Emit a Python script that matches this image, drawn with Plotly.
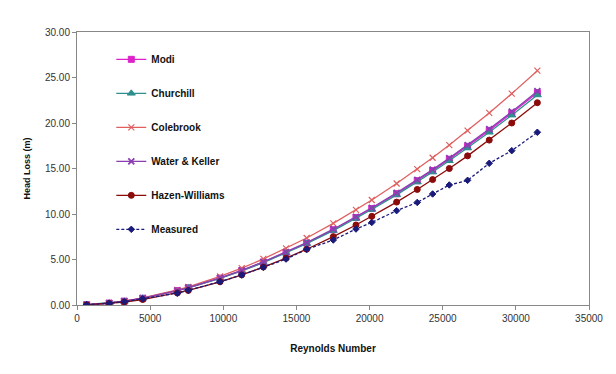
import plotly.graph_objects as go

reynolds = [660, 2200, 3230, 4490, 6860, 7610, 9780, 11260, 12740, 14290, 15700,
            17520, 19070, 20150, 21850, 23260, 24310, 25450, 26700, 28180, 29720, 31470]

modi = [0.03, 0.21, 0.42, 0.74, 1.58, 1.89, 2.95, 3.78, 4.71, 5.77, 6.81,
        8.27, 9.61, 10.60, 12.23, 13.66, 14.77, 16.02, 17.44, 19.19, 21.09, 23.33]
churchill = [0.03, 0.21, 0.41, 0.74, 1.56, 1.87, 2.92, 3.74, 4.65, 5.71, 6.74,
             8.18, 9.51, 10.49, 12.10, 13.51, 14.61, 15.85, 17.25, 18.98, 20.86, 23.08]
colebrook = [0.03, 0.21, 0.43, 0.77, 1.66, 2.00, 3.14, 4.05, 5.06, 6.22, 7.36,
             8.97, 10.45, 11.54, 13.35, 14.94, 16.18, 17.57, 19.16, 21.11, 23.23, 25.75]
water_keller = [0.03, 0.21, 0.42, 0.75, 1.59, 1.90, 2.97, 3.81, 4.74, 5.81, 6.86,
                8.33, 9.68, 10.68, 12.32, 13.76, 14.88, 16.14, 17.57, 19.33, 21.24, 23.50]
hazen = [0.02, 0.16, 0.33, 0.60, 1.32, 1.60, 2.55, 3.31, 4.17, 5.15, 6.13,
         7.51, 8.79, 9.74, 11.31, 12.70, 13.78, 15.00, 16.39, 18.12, 20.00, 22.23]
measured = [0.04, 0.18, 0.37, 0.68, 1.30, 1.62, 2.56, 3.30, 4.14, 5.05, 6.12,
            7.14, 8.35, 9.07, 10.37, 11.27, 12.20, 13.19, 13.70, 15.57, 16.96, 18.98]

x_ticks = [0, 5000, 10000, 15000, 20000, 25000, 30000, 35000]
y_ticks = [0, 5, 10, 15, 20, 25, 30]

series = [
    ("Modi", modi, "#dd22cc", "square", 6, "solid", 1.0),
    ("Churchill", churchill, "#2f8f8f", "triangle-up", 7, "solid", 1.0),
    ("Colebrook", colebrook, "#e06060", "x-thin", 6, "solid", 1.2),
    ("Water & Keller", water_keller, "#8a3fb0", "x-thin", 6, "solid", 1.8),
    ("Hazen-Williams", hazen, "#8b0a0a", "circle", 6, "solid", 1.0),
    ("Measured", measured, "#1a1a7a", "diamond", 5, "3px,2px", 1.0),
]

fig = go.Figure()
for i, (name, vals, color, sym, size, dash, mlw) in enumerate(series):
    fig.add_trace(go.Scatter(
        x=reynolds, y=vals, name=name, mode="lines+markers",
        line=dict(color=color, width=1.3, dash=dash),
        marker=dict(symbol=sym, size=size, color=color,
                    line=dict(color=color, width=mlw)),
        legendgroup="g%d" % i,
    ))

fig.update_layout(
    width=600, height=358,
    margin=dict(l=69, r=19, t=24, b=61, autoexpand=False),
    paper_bgcolor="white", plot_bgcolor="white",
    font=dict(family="Liberation Sans, Arial, sans-serif", size=10, color="#222"),
    showlegend=True,
    legend=dict(x=0.067, y=0.953, xanchor="left", yanchor="top",
                bgcolor="rgba(0,0,0,0)", tracegroupgap=15,
                font=dict(family="Liberation Sans, Arial, sans-serif", size=10, color="#111",
                          weight="bold")),
    xaxis=dict(range=[0, 35000], tickvals=x_ticks, ticktext=[str(v) for v in x_ticks],
               showgrid=False, zeroline=False, showline=True, linecolor="#888",
               linewidth=1, mirror=True, ticks="outside", ticklen=4, tickcolor="#888",
               tickfont=dict(size=10, color="#333"), automargin=False,
               title=dict(text="<b>Reynolds Number</b>", standoff=21,
                          font=dict(size=10, color="#111"))),
    yaxis=dict(range=[0, 30], tickvals=y_ticks, ticktext=["%.2f" % v for v in y_ticks],
               showgrid=False, zeroline=False, showline=True, linecolor="#888",
               linewidth=1, mirror=True, ticks="outside", ticklen=4, tickcolor="#888",
               tickfont=dict(size=10, color="#333"), automargin=False,
               title=dict(text="<b>Head Loss (m)</b>", standoff=12,
                          font=dict(size=9, color="#111"))),
    shapes=[dict(type="rect", xref="paper", yref="paper",
                 x0=(6 - 77) / 512, x1=(610 - 77) / 512,
                 y0=(305 - 368) / 273, y1=(305 - 7) / 273,
                 line=dict(color="#e6e6e6", width=1), layer="below")],
)

fig.write_html("out.html")
